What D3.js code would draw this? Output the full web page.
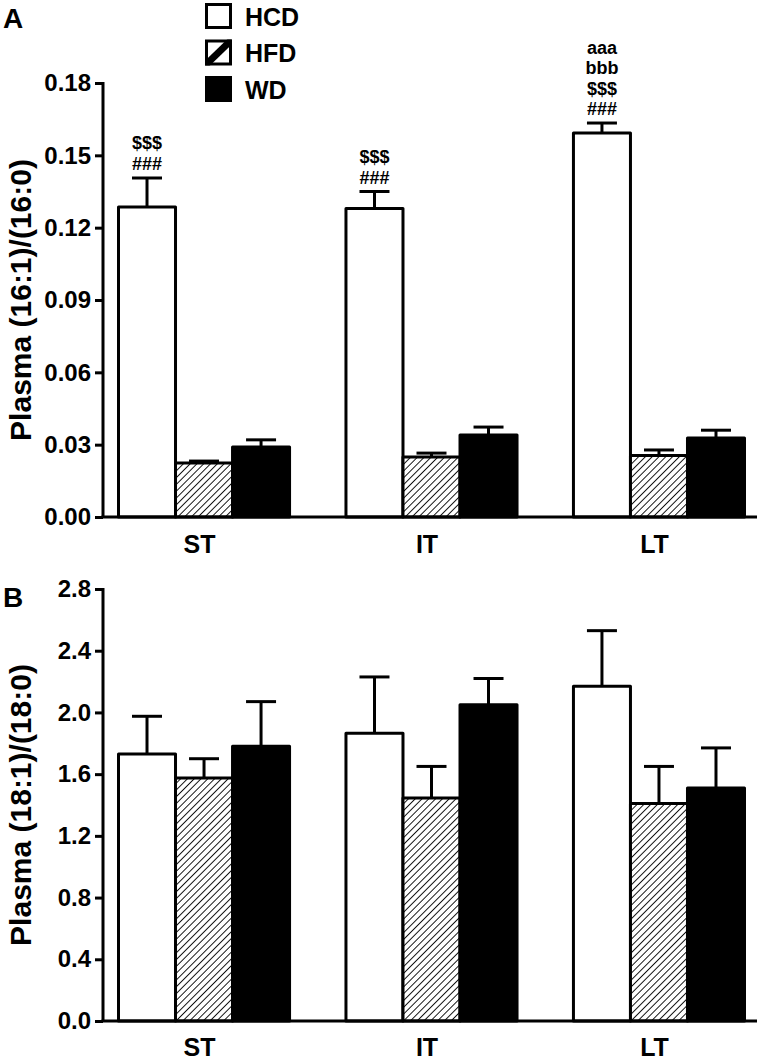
<!DOCTYPE html>
<html>
<head>
<meta charset="utf-8">
<script src="https://cdn.jsdelivr.net/npm/d3@7"></script>
<style>
  html, body { margin: 0; padding: 0; background: #fff; }
  svg { display: block; }
  text { font-family: "Liberation Sans", Arial, Helvetica, sans-serif; font-weight: bold; fill: #000; }
</style>
</head>
<body>
<svg id="chart" width="760" height="1063"></svg>
<script>
// ---------- data ----------
const categories = ["ST", "IT", "LT"];
const series = ["HCD", "HFD", "WD"];

// Panel A: Plasma (16:1)/(16:0)
const a_HCD = [0.1286, 0.1280, 0.1593];
const a_HCD_err = [0.0120, 0.0070, 0.0041];
const a_HFD = [0.0224, 0.0249, 0.0255];
const a_HFD_err = [0.0008, 0.0016, 0.0023];
const a_WD = [0.0290, 0.0340, 0.0328];
const a_WD_err = [0.0030, 0.0033, 0.0032];
const a_ticks = [0, 0.03, 0.06, 0.09, 0.12, 0.15, 0.18];
const a_annot = [["$$$", "###"], ["$$$", "###"], ["aaa", "bbb", "$$$", "###"]];

// Panel B: Plasma (18:1)/(18:0)
const b_HCD = [1.73, 1.865, 2.17];
const b_HCD_err = [0.245, 0.365, 0.36];
const b_HFD = [1.575, 1.445, 1.41];
const b_HFD_err = [0.125, 0.205, 0.24];
const b_WD = [1.78, 2.05, 1.51];
const b_WD_err = [0.29, 0.17, 0.26];
const b_ticks = [0, 0.4, 0.8, 1.2, 1.6, 2.0, 2.4, 2.8];

// ---------- drawing ----------
const svg = d3.select("#chart");
const defs = svg.append("defs");
const pat = defs.append("pattern")
  .attr("id", "hatch").attr("patternUnits", "userSpaceOnUse")
  .attr("width", 4.8).attr("height", 4.8)
  .attr("patternTransform", "rotate(45)");
pat.append("rect").attr("width", 4.8).attr("height", 4.8).attr("fill", "#fff");
pat.append("line").attr("x1", 0).attr("y1", 0).attr("x2", 0).attr("y2", 4.8)
  .attr("stroke", "#000").attr("stroke-width", 1.8);

const fills = { HCD: "#fff", HFD: "url(#hatch)", WD: "#000" };

const xAxisLeft = 103, xAxisRight = 757;
const x0 = d3.scaleBand().domain(categories).range([117, 743]).paddingInner(0.248).paddingOuter(0);
const x1 = d3.scaleBand().domain(series).range([0, x0.bandwidth()]).padding(0);

function drawPanel(cfg) {
  const g = svg.append("g");
  const y = d3.scaleLinear().domain(cfg.domain).range([cfg.bottom, cfg.top]);
  const rows = categories.map((c, i) => ({
    cat: c,
    vals: series.map(s => ({ s, v: cfg.means[s][i], e: cfg.errs[s][i] }))
  }));

  const grp = g.selectAll("g.grp").data(rows).join("g")
    .attr("transform", d => `translate(${x0(d.cat)},0)`);
  // error bars
  grp.selectAll("g.err").data(d => d.vals).join("g").each(function(d) {
    const cx = x1(d.s) + x1.bandwidth() / 2 + 1.5;
    const sel = d3.select(this);
    sel.append("line").attr("x1", cx).attr("x2", cx)
      .attr("y1", y(d.v)).attr("y2", y(d.v + d.e))
      .attr("stroke", "#000").attr("stroke-width", 3);
    sel.append("line").attr("x1", cx - 15).attr("x2", cx + 15)
      .attr("y1", y(d.v + d.e)).attr("y2", y(d.v + d.e))
      .attr("stroke", "#000").attr("stroke-width", 3);
  });
  // bars
  grp.selectAll("rect.bar").data(d => d.vals).join("rect")
    .attr("x", d => x1(d.s) + 1.5)
    .attr("width", x1.bandwidth())
    .attr("y", d => y(d.v))
    .attr("height", d => y(0) - y(d.v))
    .attr("fill", d => fills[d.s])
    .attr("stroke", "#000").attr("stroke-width", 3)
    .attr("stroke-linejoin", "round");

  // annotations
  if (cfg.annot) {
    rows.forEach((r, i) => {
      const hcd = r.vals[0];
      const cx = x0(r.cat) + x1("HCD") + x1.bandwidth() / 2 + 1.5;
      const base = y(hcd.v + hcd.e) - 8;
      const lines = cfg.annot[i];
      lines.forEach((t, j) => {
        g.append("text").attr("x", cx).attr("y", base - (lines.length - 1 - j) * 20.5)
          .attr("text-anchor", "middle").attr("font-size", 18).text(t);
      });
    });
  }

  // y axis
  const yAxis = d3.axisLeft(y).tickValues(cfg.ticks).tickFormat(d3.format(cfg.fmt))
    .tickSize(8).tickPadding(4);
  const ya = g.append("g").attr("transform", `translate(${xAxisLeft},0)`).call(yAxis);
  ya.select(".domain").attr("d", `M0,${cfg.top - 1}V${cfg.bottom}`).attr("stroke-width", 3);
  ya.selectAll(".tick line").attr("stroke-width", 3);
  ya.selectAll(".tick text").attr("font-size", 24)
    .attr("font-family", "Liberation Sans, Arial, sans-serif").attr("font-weight", "bold");

  // x axis
  const xa = g.append("g").attr("transform", `translate(0,${cfg.bottom})`);
  xa.append("line").attr("x1", xAxisLeft - 1.5).attr("x2", xAxisRight)
    .attr("stroke", "#000").attr("stroke-width", 3);
  xa.selectAll("text").data(categories).join("text")
    .attr("x", d => x0(d) + x0.bandwidth() / 2 - 3)
    .attr("y", cfg.labelY - cfg.bottom)
    .attr("text-anchor", "middle").attr("font-size", 25).text(d => d);

  // y title
  g.append("text")
    .attr("transform", `translate(31,${(cfg.top + cfg.bottom) / 2}) rotate(-90)`)
    .attr("text-anchor", "middle").attr("font-size", 30).text(cfg.title);

  // panel letter
  g.append("text").attr("x", 3).attr("y", cfg.letterY).attr("font-size", 28).text(cfg.letter);
}

drawPanel({
  domain: [0, 0.18], top: 83, bottom: 517, ticks: a_ticks, fmt: ".2f",
  means: { HCD: a_HCD, HFD: a_HFD, WD: a_WD },
  errs: { HCD: a_HCD_err, HFD: a_HFD_err, WD: a_WD_err },
  annot: a_annot, labelY: 553, title: "Plasma (16:1)/(16:0)", letter: "A", letterY: 28
});
drawPanel({
  domain: [0, 2.8], top: 589, bottom: 1021, ticks: b_ticks, fmt: ".1f",
  means: { HCD: b_HCD, HFD: b_HFD, WD: b_WD },
  errs: { HCD: b_HCD_err, HFD: b_HFD_err, WD: b_WD_err },
  annot: null, labelY: 1056, title: "Plasma (18:1)/(18:0)", letter: "B", letterY: 607
});

// ---------- legend ----------
const leg = svg.append("g");
const legY = [3, 39.5, 76];
series.forEach((s, i) => {
  const gy = legY[i];
  const cp = defs.append("clipPath").attr("id", "legclip" + i);
  cp.append("rect").attr("x", 205).attr("y", gy).attr("width", 27).attr("height", 26);
  leg.append("rect").attr("x", 206.5).attr("y", gy + 1.5).attr("width", 24).attr("height", 23)
    .attr("fill", s === "WD" ? "#000" : "#fff").attr("stroke", "#000").attr("stroke-width", 3);
  if (s === "HFD") {
    leg.append("line").attr("clip-path", "url(#legclip" + i + ")")
      .attr("x1", 205).attr("y1", gy + 26).attr("x2", 232).attr("y2", gy)
      .attr("stroke", "#000").attr("stroke-width", 7);
  }
  leg.append("text").attr("x", 245).attr("y", gy + 22.5).attr("font-size", 25).text(s);
});
</script>
</body>
</html>
